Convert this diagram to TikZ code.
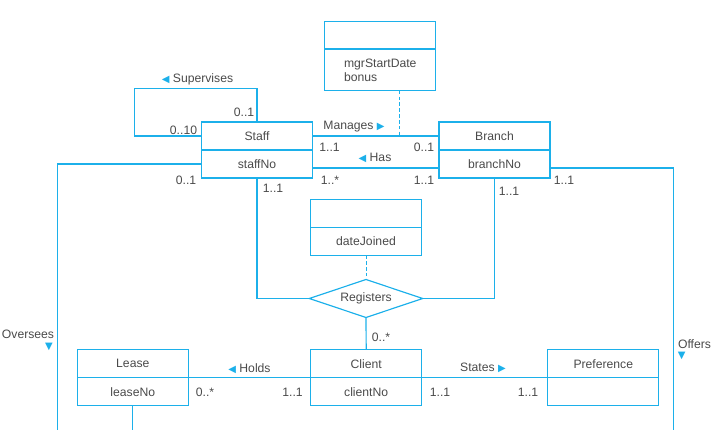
\documentclass[tikz,border=0pt]{standalone}
\usepackage{fontspec}
\setmainfont{Liberation Sans}
\newfontfamily\symfont{DejaVu Sans}
\usepackage{xcolor}
\usepackage{tikz}
\usetikzlibrary{positioning,shapes.geometric,calc}
\definecolor{UmlCyan}{HTML}{1CB0EA}
\definecolor{UmlText}{HTML}{4A4A4A}
\newcommand{\rtri}{{\symfont\fontsize{8.5}{8.5}\selectfont\textcolor{UmlCyan}{▶}}}
\newcommand{\ltri}{{\symfont\fontsize{8.5}{8.5}\selectfont\textcolor{UmlCyan}{◀}}}
\newcommand{\dtri}{{\symfont\fontsize{8.5}{8.5}\selectfont\textcolor{UmlCyan}{▼}}}

\begin{document}
\begin{tikzpicture}[
  x=0.03cm,y=-0.03cm,
  every node/.style={font=\fontsize{10.4}{11.8}\selectfont,text=UmlText,align=center},
  entity/.style={draw=UmlCyan,line width=1pt,outer sep=0pt,inner sep=0pt,minimum width=3.33cm,minimum height=0.84cm},
  rel/.style={diamond,draw=UmlCyan,line width=1pt,outer sep=0pt,inner sep=0pt,aspect=3,minimum width=3.4cm,minimum height=1.14cm},
  link/.style={draw=UmlCyan,line width=1pt},
  assoc/.style={link,line width=0.8pt,dash pattern=on 3pt off 2pt},
  mult/.style={inner sep=0pt}
]
  \useasboundingbox (0,0) rectangle (718,430);

  % entities
  \node[entity] (staff) at (257,136) {Staff};
  \node[entity,below=0pt of staff] (staffkey) {staffNo};
  \node[entity] (branch) at (494.5,136) {Branch};
  \node[entity,below=0pt of branch] (branchkey) {branchNo};
  \node[entity] (lease) at (132.8,363.7) {Lease};
  \node[entity,below=0pt of lease] (leasekey) {leaseNo};
  \node[entity] (client) at (366.2,363.7) {Client};
  \node[entity,below=0pt of client] (clientkey) {clientNo};
  \node[entity] (pref) at (603.3,363.7) {Preference};
  \node[entity,below=0pt of pref] (prefkey) {};

  % association classes
  \node[entity,minimum height=0.82cm] (mgrhead) at (380.3,35.4) {};
  \node[entity,below=0pt of mgrhead,minimum height=1.25cm,align=left] (mgrattr) {mgrStartDate\\bonus};
  \node[entity] (reghead) at (366,213.3) {};
  \node[entity,below=0pt of reghead] (regattr) {dateJoined};
  \node[rel] (registers) at (366,298.5) {Registers};

  % free ends
  \coordinate (mgrjoin) at (399.3,136);
  \coordinate (supcorner) at (134.3,88.3);
  \coordinate (overseesend) at (57.3,430);
  \coordinate (offersend) at (673.3,430);
  \coordinate (leaseend) at (132.8,430);

  % connectors
  \draw[link] (staff.east) -- (branch.west);
  \draw[assoc] (mgrattr.south -| mgrjoin) -- (mgrjoin);
  \draw[link] ([yshift=-1.2mm]staffkey.east) -- ([yshift=-1.2mm]branchkey.west);
  \draw[link] (staff.west) -| (supcorner) -| (staff.north);
  \draw[link] (staffkey.west) -| (overseesend);
  \draw[link] ([yshift=-1.2mm]branchkey.east) -| (offersend);
  \draw[link] (staffkey.south) |- (registers.west);
  \draw[link] (branchkey.south) |- (registers.east);
  \draw[assoc] (regattr.south) -- (registers.north);
  \draw[link] (registers.south) -- (client.north);
  \draw[link] (lease.south east) -- (client.south west);
  \draw[link] (client.south east) -- (pref.south west);
  \draw[link] (leasekey.south) -- (leaseend);

  % relationship names
  \node (supervises) at (197.5,79) {\ltri\ Supervises};
  \node (manages) at (354,126.7) {Manages \rtri};
  \node (has) at (375,158) {\ltri\ Has};
  \node (holds) at (249.5,368.3) {\ltri\ Holds};
  \node (states) at (483,367.7) {States \rtri};
  \node (oversees) at (28,334) {Oversees};
  \node (overseesarrow) at (49,346.7) {\dtri};
  \node (offers) at (694.5,344) {Offers};
  \node (offersarrow) at (681.7,356) {\dtri};

  % multiplicities
  \node[mult] (m1) at (244,112) {0..1};
  \node[mult] (m2) at (183.5,130) {0..10};
  \node[mult] (m3) at (329.5,147.7) {1..1};
  \node[mult] (m4) at (424,147.7) {0..1};
  \node[mult] (m5) at (330,180.7) {1..*};
  \node[mult] (m6) at (424,180.7) {1..1};
  \node[mult] (m7) at (186,180) {0..1};
  \node[mult] (m8) at (273,188.3) {1..1};
  \node[mult] (m9) at (509,191.7) {1..1};
  \node[mult] (m10) at (564,180) {1..1};
  \node[mult] (m11) at (381,337) {0..*};
  \node[mult] (m12) at (205,392.7) {0..*};
  \node[mult] (m13) at (292.5,392.7) {1..1};
  \node[mult] (m14) at (440,392.7) {1..1};
  \node[mult] (m15) at (528,392.7) {1..1};
\end{tikzpicture}
\end{document}
